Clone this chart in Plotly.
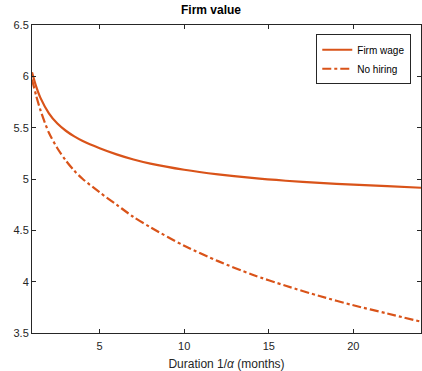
import plotly.graph_objects as go

duration = [1, 1.25, 1.5, 2, 2.5, 3, 3.5, 4, 5, 6, 7, 8, 10, 12, 14, 16, 18, 20, 22, 24]
firm_wage = [6.04, 5.90, 5.79, 5.64, 5.54, 5.47, 5.415, 5.37, 5.30, 5.24, 5.19, 5.15,
             5.09, 5.045, 5.01, 4.983, 4.962, 4.945, 4.93, 4.915]
no_hiring = [5.97, 5.81, 5.67, 5.45, 5.30, 5.18, 5.08, 5.00, 4.87, 4.75, 4.63, 4.53,
             4.35, 4.20, 4.07, 3.96, 3.86, 3.77, 3.69, 3.61]
x_ticks = [5, 10, 15, 20]
y_ticks = [3.5, 4, 4.5, 5, 5.5, 6, 6.5]

color = "#D95319"
axcol = "#262626"
font = "Liberation Sans, Arial, sans-serif"

fig = go.Figure()
fig.add_trace(go.Scatter(x=duration, y=firm_wage, mode="lines", name="Firm wage",
                         line=dict(color=color, width=2.2, shape="spline", smoothing=0.8)))
fig.add_trace(go.Scatter(x=duration, y=no_hiring, mode="lines", name="No hiring",
                         line=dict(color=color, width=2.2, dash="dashdot",
                                   shape="spline", smoothing=0.8)))

axis_common = dict(showgrid=False, zeroline=False, showline=True, linecolor=axcol,
                   linewidth=1, mirror="ticks", ticks="inside", ticklen=4,
                   tickcolor=axcol, tickfont=dict(family=font, size=11, color=axcol))

fig.update_layout(
    width=422, height=371,
    margin=dict(l=32, r=1, t=25, b=38),
    paper_bgcolor="white", plot_bgcolor="white",
    title=dict(text="<b>Firm value</b>", x=0.5, xanchor="center", y=0.985, yanchor="top",
               font=dict(family=font, size=12, color="black")),
    xaxis=dict(range=[1, 24], tickvals=x_ticks, ticklabelstandoff=3,
               title=dict(text="Duration 1/<i>α</i> (months)", standoff=9,
                          font=dict(family=font, size=12, color=axcol)),
               **axis_common),
    yaxis=dict(range=[3.5, 6.5], tickvals=y_ticks, ticktext=[str(v) for v in y_ticks],
               **axis_common),
    legend=dict(x=0.975, y=0.97, xanchor="right", yanchor="top",
                bgcolor="white", bordercolor=axcol, borderwidth=1,
                font=dict(family=font, size=10, color="black"),
                tracegroupgap=0, itemwidth=30),
    showlegend=True,
)

fig.write_html("out.html")
